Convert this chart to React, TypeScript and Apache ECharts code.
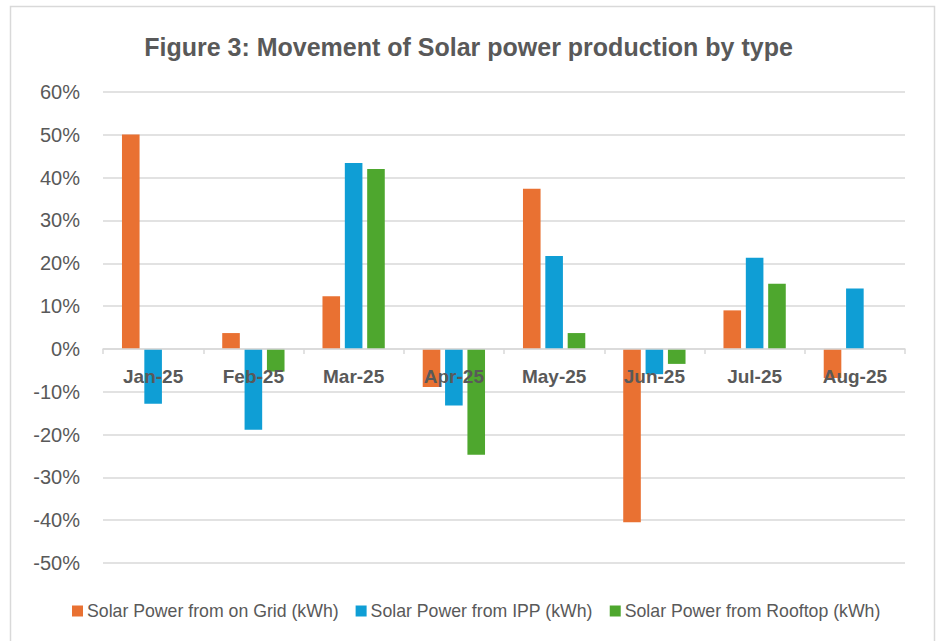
import React, { useEffect, useRef } from "react";
import * as echarts from "echarts";

const categories = ["Jan-25", "Feb-25", "Mar-25", "Apr-25", "May-25", "Jun-25", "Jul-25", "Aug-25"];
const gridValues = [50.1, 3.7, 12.3, -8.9, 37.4, -40.5, 9.0, -6.8];
const ippValues = [-12.8, -18.9, 43.4, -13.2, 21.7, -5.9, 21.3, 14.1];
const rooftopValues = [null, -5.3, 42.0, -24.7, 3.7, -3.5, 15.2, null];
const seriesNames = [
  "Solar Power from on Grid (kWh)",
  "Solar Power from IPP (kWh)",
  "Solar Power from Rooftop (kWh)",
];
const titleText = "Figure 3: Movement of Solar power production by type";
const yMin = -50;
const yMax = 60;

const TEXT = "#595959";
const FONT = "'Liberation Sans', Arial, sans-serif";

const GRID_TOP = 92;
const GRID_BOTTOM = 78;
const CHART_H = 641;

export default function App() {
  const ref = useRef<HTMLDivElement>(null);
  useEffect(() => {
    if (!ref.current) return;
    const chart = echarts.init(ref.current, null, { renderer: "svg" });
    const plotH = CHART_H - GRID_TOP - GRID_BOTTOM;
    const zeroOffset = -(plotH * (0 - yMin)) / (yMax - yMin);
    const barStyle = (color: string) => ({
      type: "bar" as const,
      barWidth: 17.6,
      barGap: "27%",
      itemStyle: { color },
    });
    chart.setOption({
      animation: false,
      backgroundColor: "#ffffff",
      textStyle: { fontFamily: FONT },
      title: {
        text: titleText,
        left: "center",
        top: 29,
        textStyle: { fontSize: 25, fontWeight: "bold", color: TEXT, fontFamily: FONT },
      },
      grid: { left: 103, right: 32, top: GRID_TOP, bottom: GRID_BOTTOM, containLabel: false },
      legend: {
        bottom: 16,
        left: 67,
        itemWidth: 11,
        itemHeight: 11,
        itemGap: 17,
        icon: "rect",
        textStyle: { fontSize: 17.7, color: TEXT, fontFamily: FONT, padding: [0, 0, 0, -1] },
        data: seriesNames,
      },
      xAxis: {
        type: "category",
        data: categories,
        position: "bottom",
        offset: zeroOffset,
        z: 10,
        axisLine: { onZero: false, lineStyle: { color: "#D9D9D9", width: 1.5 } },
        axisTick: { show: true, length: 5, lineStyle: { color: "#D9D9D9", width: 1.5 } },
        axisLabel: { fontSize: 19, fontWeight: "bold", color: TEXT, margin: 18, fontFamily: FONT },
      },
      yAxis: {
        type: "value",
        min: yMin,
        max: yMax,
        interval: 10,
        axisLine: { show: false },
        axisTick: { show: false },
        splitLine: { lineStyle: { color: "#D9D9D9", width: 1.5 } },
        axisLabel: {
          formatter: (v: number) => `${v}%`,
          fontSize: 20,
          color: TEXT,
          margin: 23,
          fontFamily: FONT,
        },
      },
      graphic: [
        {
          type: "rect",
          shape: { x: 10.5, y: 6.5, width: 924, height: 660 },
          style: { fill: "none", stroke: "#D9D9D9", lineWidth: 1.5 },
          silent: true,
        },
      ],
      series: [
        { name: seriesNames[0], data: gridValues, ...barStyle("#E97132") },
        { name: seriesNames[1], data: ippValues, ...barStyle("#0F9ED5") },
        { name: seriesNames[2], data: rooftopValues, ...barStyle("#4EA72E") },
      ],
    });
    return () => chart.dispose();
  }, []);
  return (
    <div
      ref={ref}
      style={{ position: "fixed", left: 0, top: 0, width: 937, height: 641 }}
    />
  );
}
